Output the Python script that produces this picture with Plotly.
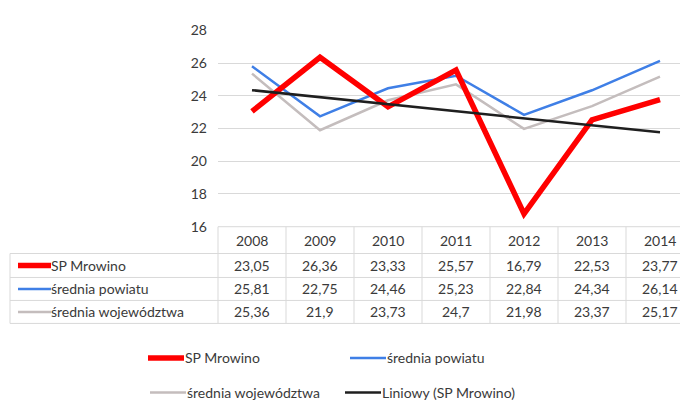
import numpy as np
import plotly.graph_objects as go

W, H = 688, 401

years = ["2008", "2009", "2010", "2011", "2012", "2013", "2014"]
sp_mrowino = [23.05, 26.36, 23.33, 25.57, 16.79, 22.53, 23.77]
srednia_powiatu = [25.81, 22.75, 24.46, 25.23, 22.84, 24.34, 26.14]
srednia_wojewodztwa = [25.36, 21.9, 23.73, 24.7, 21.98, 23.37, 25.17]

series = [("SP Mrowino", sp_mrowino, "#FF0000", 5.5),
          ("średnia powiatu", srednia_powiatu, "#3F7FE6", 2.5),
          ("średnia województwa", srednia_wojewodztwa, "#C4BDBD", 2.5)]
TREND_NAME = "Liniowy (SP Mrowino)"
TREND_COLOR = "#1F1F1F"

FONT = "Lato"
FS = 14
TXT = "#3A3A3A"
GRID = "#D9D9D9"

# pixel geometry
PL, PR = 210, 686          # plot area left/right
PT, PB = 14, 219           # y of 28 and 16
TL = 2                     # table left edge
ROWS = [219, 247, 272, 296, 320]  # table horizontal lines


def px(x):
    return x / W


def py(y):
    return 1 - y / H


def label(x, y, text, anchor="center"):
    return dict(x=px(x), y=py(y), xref="paper", yref="paper", xanchor=anchor, yanchor="middle",
                text=text, showarrow=False, font=dict(family=FONT, size=FS, color=TXT))


fig = go.Figure()

xi = list(range(len(years)))
for name, vals, color, width in series[::-1]:
    fig.add_trace(go.Scatter(x=xi, y=vals, mode="lines", name=name,
                             line=dict(color=color, width=width), showlegend=False))

# linear trend of SP Mrowino
k, b = np.polyfit(xi, sp_mrowino, 1)
trend = [k * i + b for i in xi]
fig.add_trace(go.Scatter(x=xi, y=trend, mode="lines", name=TREND_NAME,
                         line=dict(color=TREND_COLOR, width=2.5), showlegend=False))

shapes = []
annotations = []

# table borders
col_w = (PR - PL) / len(years)
for i in range(len(years) + 1):
    x = PL + i * col_w
    shapes.append(dict(type="line", xref="paper", yref="paper", x0=px(x), x1=px(x),
                       y0=py(ROWS[0]), y1=py(ROWS[-1]), line=dict(color=GRID, width=1)))
shapes.append(dict(type="line", xref="paper", yref="paper", x0=px(TL), x1=px(TL),
                   y0=py(ROWS[1]), y1=py(ROWS[-1]), line=dict(color=GRID, width=1)))
for j, y in enumerate(ROWS):
    x0 = PL if j == 0 else TL
    shapes.append(dict(type="line", xref="paper", yref="paper", x0=px(x0), x1=px(PR),
                       y0=py(y), y1=py(y), line=dict(color=GRID, width=1)))

# header
for i, yr in enumerate(years):
    cx = PL + (i + 0.5) * col_w
    annotations.append(label(cx, (ROWS[0] + ROWS[1]) / 2, yr))

# rows
for r, (name, vals, color, width) in enumerate(series):
    yc = (ROWS[r + 1] + ROWS[r + 2]) / 2
    shapes.append(dict(type="line", xref="paper", yref="paper", x0=px(10), x1=px(43),
                       y0=py(yc), y1=py(yc), line=dict(color=color, width=width)))
    annotations.append(label(41, yc, name, "left"))
    for i, v in enumerate(vals):
        cx = PL + (i + 0.5) * col_w
        annotations.append(label(cx, yc, f"{v:g}".replace(".", ",")))

# legend
legend_items = [(series[0][0], series[0][2], 5.5, 140, 356),
                (series[1][0], series[1][2], 2.5, 342, 356),
                (series[2][0], series[2][2], 2.5, 142, 392),
                (TREND_NAME, TREND_COLOR, 2.5, 337, 392)]
for name, color, width, x0, y in legend_items:
    shapes.append(dict(type="line", xref="paper", yref="paper", x0=px(x0), x1=px(x0 + 36),
                       y0=py(y), y1=py(y), line=dict(color=color, width=width)))
    annotations.append(label(x0 + 35, y, name, "left"))

fig.update_layout(
    width=W, height=H,
    margin=dict(l=0, r=0, t=0, b=0),
    paper_bgcolor="white", plot_bgcolor="white",
    shapes=shapes, annotations=annotations,
    xaxis=dict(domain=[px(PL), px(PR)], range=[-0.5, len(years) - 0.5],
               showticklabels=False, showgrid=False, zeroline=False),
    yaxis=dict(domain=[py(PB), py(PT)], range=[16, 28], dtick=2,
               showgrid=True, gridcolor=GRID, zeroline=False,
               ticks="", ticklabelstandoff=10,
               tickfont=dict(family=FONT, size=FS, color=TXT)),
)

fig.write_html("out.html")
